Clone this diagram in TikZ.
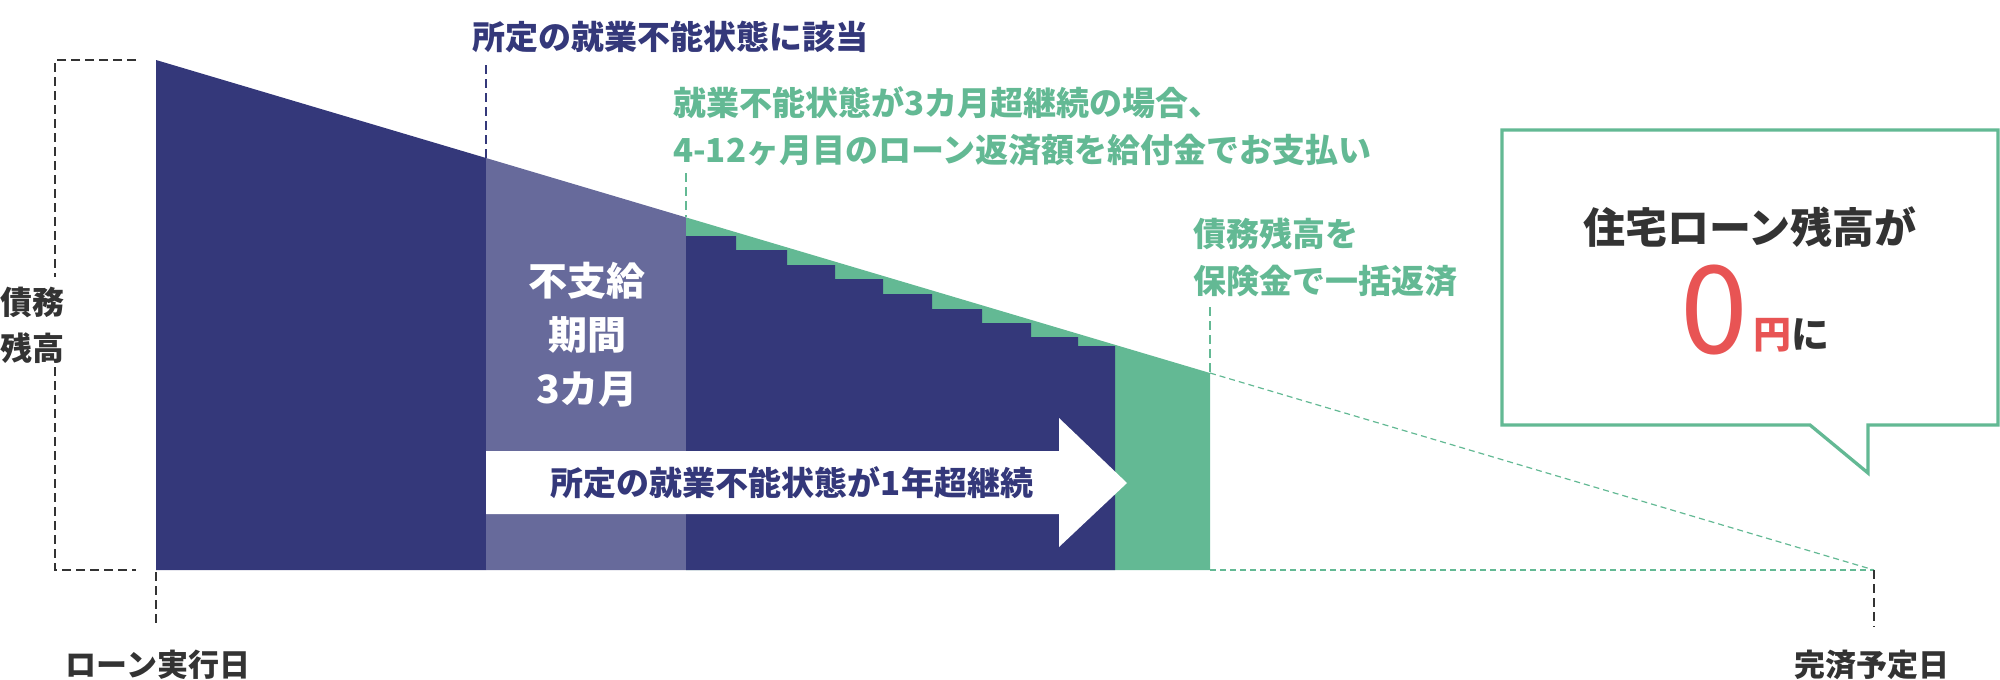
\documentclass[tikz,border=0pt]{standalone}
\usepackage{fontspec}
\setmainfont{Noto Sans CJK JP}
\definecolor{loannavy}{HTML}{34387A}
\definecolor{loanlilac}{HTML}{676A9B}
\definecolor{loangreen}{HTML}{63B994}
\definecolor{loanred}{HTML}{E85454}
\definecolor{loangray}{HTML}{333333}
\tikzset{
  lead/.style={dash pattern=on 9pt off 5pt, line width=2pt},
  faint/.style={loangreen, dash pattern=on 6pt off 4pt, line width=1.2pt},
  lbl/.style={inner sep=0pt, font=\bfseries\fontsize{33}{47}\selectfont},
}
\begin{document}
\begin{tikzpicture}[x=1pt,y=-1pt]
        \useasboundingbox (0,0) rectangle (2000,680);
\coordinate (top) at (156,60);
\coordinate (p1) at (486,158);
\coordinate (p2) at (686,217.4);
\coordinate (p3) at (1210,373);
\coordinate (end) at (1874,570);
\coordinate (b0) at (156,570);
\coordinate (b3) at (1210,570);
\fill[loannavy] (top) -- (p1) -- (486,570) -- (b0) -- cycle;
\fill[loanlilac] (p1) -- (p2) -- (686,570) -- (486,570) -- cycle;
\fill[loangreen] (p2) -- (p3) -- (b3) -- (686,570) -- cycle;
\fill[loannavy] (686,570) -- (686,236) -- (736,236) -- (736,250) -- (787,250) -- (787,265) -- (835,265) -- (835,279) -- (883,279) -- (883,294) -- (932,294) -- (932,309) -- (982,309) -- (982,323) -- (1031,323) -- (1031,337) -- (1078,337) -- (1078,346) -- (1115,346) -- (1115,570) -- cycle;
\fill[white] (486,451) -- (1059,451) -- (1059,418) -- (1127,483) -- (1059,547) -- (1059,514) -- (486,514) -- cycle;
\draw[faint] (p3) -- (end);
\draw[faint] (b3) -- (end);
\draw[lead, loangray] (136,60) -- (55,60) -- (55,277);
\draw[lead, loangray] (55,367) -- (55,570) -- (136,570);
\node[lbl, anchor=west, loannavy] (onset) at (472,37) {所定の就業不能状態に該当};
\node[lbl, anchor=west, loangreen, align=left] (benefit) at (673,126) {就業不能状態が3カ月超継続の場合、\\4-12ヶ月目のローン返済額を給付金でお支払い};
\node[lbl, anchor=west, loangreen, align=left] (payoff) at (1193,257) {債務残高を\\保険金で一括返済};
\node[lbl, loangray, align=center, font=\bfseries\fontsize{32}{46}\selectfont] (debt) at (33,325) {債務\\残高};
\node[lbl, white, align=center, font=\bfseries\fontsize{39}{54}\selectfont] (nopay) at (587,335) {不支給\\期間\\3カ月};
\node[lbl, loannavy] (year) at (792,483) {所定の就業不能状態が1年超継続};
\node[lbl, loangray, font=\bfseries\fontsize{31}{40}\selectfont] (startday) at (158,665) {ローン実行日};
\node[lbl, loangray, font=\bfseries\fontsize{31}{40}\selectfont] (endday) at (1872,665) {完済予定日};
\coordinate (n1) at (486,65);
\coordinate (g1) at (686,173);
\coordinate (g2) at (1210,307);
\coordinate (s1) at (156,627);
\coordinate (s2) at (1874,627);
\draw[lead, loannavy] (n1) -- (p1);
\draw[lead, loangreen] (g1) -- (p2);
\draw[lead, loangreen] (g2) -- (p3);
\draw[lead, loangray] (156,572) -- (s1);
\draw[lead, loangray] (end) -- (s2);
\draw[loangreen, line width=3.3pt, fill=white] (1502,130) -- (1998,130) -- (1998,425) -- (1868,425) -- (1868,473) -- (1810,425) -- (1502,425) -- cycle;
\node[lbl, loangray, font=\bfseries\fontsize{42}{50}\selectfont] (zeroline) at (1750,227) {住宅ローン残高が};
\node[inner sep=0pt, anchor=base, loanred, font=\bfseries] (zero) at (1755,353) {{\mdseries\fontsize{122}{122}\selectfont 0}\kern6pt\raisebox{5pt}{\fontsize{38}{38}\selectfont 円\textcolor{loangray}{に}}};
    \end{tikzpicture}
\end{document}
